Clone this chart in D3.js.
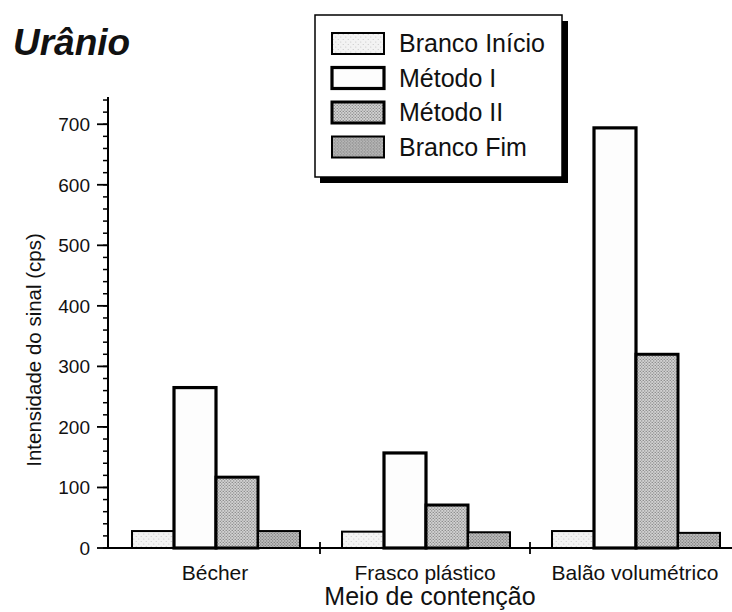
<!DOCTYPE html>
<html>
<head>
<meta charset="utf-8">
<script src="https://cdn.jsdelivr.net/npm/d3@7"></script>
<style>
  body { margin: 0; background: #fff; }
  text { font-family: "Liberation Sans", Arial, sans-serif; fill: #111; }
</style>
</head>
<body>
<svg id="chart"></svg>
<script>
// data
const categories = ["Bécher", "Frasco plástico", "Balão volumétrico"];
const seriesNames = ["Branco Início", "Método I", "Método II", "Branco Fim"];
const brancoInicio = [28, 27, 28];
const metodoI = [265, 157, 694];
const metodoII = [117, 71, 320];
const brancoFim = [28, 26, 25];
const yTicks = [0, 100, 200, 300, 400, 500, 600, 700];

const seriesValues = [brancoInicio, metodoI, metodoII, brancoFim];
const fills = ["url(#pInicio)", "#fdfdfd", "url(#pMetII)", "url(#pFim)"];
const strokeW = [2, 3.2, 3, 2];

const width = 732, height = 612;
const svg = d3.select("#chart").attr("width", width).attr("height", height);

// textures (simple fixed dot patterns)
const defs = svg.append("defs");
function dotPattern(id, bg, dot, step, r) {
    const p = defs.append("pattern").attr("id", id)
        .attr("patternUnits", "userSpaceOnUse")
        .attr("width", step).attr("height", step);
    p.append("rect").attr("width", step).attr("height", step).attr("fill", bg);
    p.append("circle").attr("cx", step * 0.25).attr("cy", step * 0.3).attr("r", r).attr("fill", dot);
    p.append("circle").attr("cx", step * 0.75).attr("cy", step * 0.8).attr("r", r).attr("fill", dot);
}
dotPattern("pInicio", "#f3f3f3", "#c4c4c4", 5, 0.6);
dotPattern("pMetII", "#d2d2d2", "#808080", 3, 0.65);
dotPattern("pFim", "#bcbcbc", "#707070", 3, 0.6);

const x0 = d3.scaleBand().domain(categories).range([110, 740]).padding(0);
const x1 = d3.scaleBand().domain(seriesNames).range([22, 190]).padding(0);
const y = d3.scaleLinear().domain([0, 745]).range([548, 97]);

// bars
const groups = svg.append("g").selectAll("g")
    .data(categories)
    .join("g")
    .attr("transform", d => `translate(${x0(d)},0)`);

groups.selectAll("rect")
    .data((c, ci) => seriesNames.map((s, si) => ({ s, si, v: seriesValues[si][ci] })))
    .join("rect")
    .attr("x", d => x1(d.s))
    .attr("width", x1.bandwidth())
    .attr("y", d => y(d.v))
    .attr("height", d => y(0) - y(d.v))
    .attr("fill", d => fills[d.si])
    .attr("stroke", "#000")
    .attr("stroke-width", d => strokeW[d.si]);

// y axis
const yAxis = svg.append("g").attr("transform", "translate(108,0)");
yAxis.append("line").attr("x1", 0).attr("x2", 0).attr("y1", 97).attr("y2", 549)
    .attr("stroke", "#000").attr("stroke-width", 2);
const minor = d3.range(0, 745, 20);
yAxis.selectAll(".minor").data(minor).join("line")
    .attr("x1", -5).attr("x2", 1).attr("y1", d => y(d)).attr("y2", d => y(d))
    .attr("stroke", "#000").attr("stroke-width", 1.5);
yAxis.selectAll(".major").data(yTicks).join("line")
    .attr("x1", -11).attr("x2", 1).attr("y1", d => y(d)).attr("y2", d => y(d))
    .attr("stroke", "#000").attr("stroke-width", 1.8);
yAxis.selectAll(".lab").data(yTicks).join("text")
    .attr("x", -18).attr("y", d => y(d)).attr("dy", "0.36em")
    .attr("text-anchor", "end").attr("font-size", 19).text(d => d);

// x axis
const xAxis = svg.append("g");
xAxis.append("line").attr("x1", 107).attr("x2", 732).attr("y1", 548).attr("y2", 548)
    .attr("stroke", "#000").attr("stroke-width", 2);
xAxis.selectAll(".sep").data(categories.slice(1)).join("line")
    .attr("x1", d => x0(d)).attr("x2", d => x0(d)).attr("y1", 542).attr("y2", 554)
    .attr("stroke", "#000").attr("stroke-width", 1.8);
xAxis.selectAll(".cat").data(categories).join("text")
    .attr("x", d => x0(d) + x0.bandwidth() / 2)
    .attr("y", 580).attr("text-anchor", "middle").attr("font-size", 21)
    .text(d => d);

// titles
svg.append("text").attr("x", 430).attr("y", 605).attr("text-anchor", "middle")
    .attr("font-size", 25).text("Meio de contenção");
svg.append("text").attr("transform", "translate(41,350) rotate(-90)")
    .attr("text-anchor", "middle").attr("font-size", 20.5)
    .text("Intensidade do sinal (cps)");
svg.append("text").attr("x", 13).attr("y", 55)
    .attr("font-size", 37).attr("font-weight", "bold").attr("font-style", "italic")
    .text("Urânio");

// legend
const lg = svg.append("g");
lg.append("rect").attr("x", 320).attr("y", 21).attr("width", 248).attr("height", 162).attr("fill", "#000");
lg.append("rect").attr("x", 315).attr("y", 15).attr("width", 247).attr("height", 162)
    .attr("fill", "#fff").attr("stroke", "#000").attr("stroke-width", 1.5);
const rows = lg.selectAll(".row").data(seriesNames).join("g")
    .attr("transform", (d, i) => `translate(332,${43 + i * 34.5})`);
rows.append("rect").attr("x", 0).attr("y", -10).attr("width", 52).attr("height", 21)
    .attr("fill", (d, i) => fills[i]).attr("stroke", "#000")
    .attr("stroke-width", (d, i) => strokeW[i]);
rows.append("text").attr("x", 67).attr("dy", "0.36em").attr("font-size", 25).text(d => d);
</script>
</body>
</html>
